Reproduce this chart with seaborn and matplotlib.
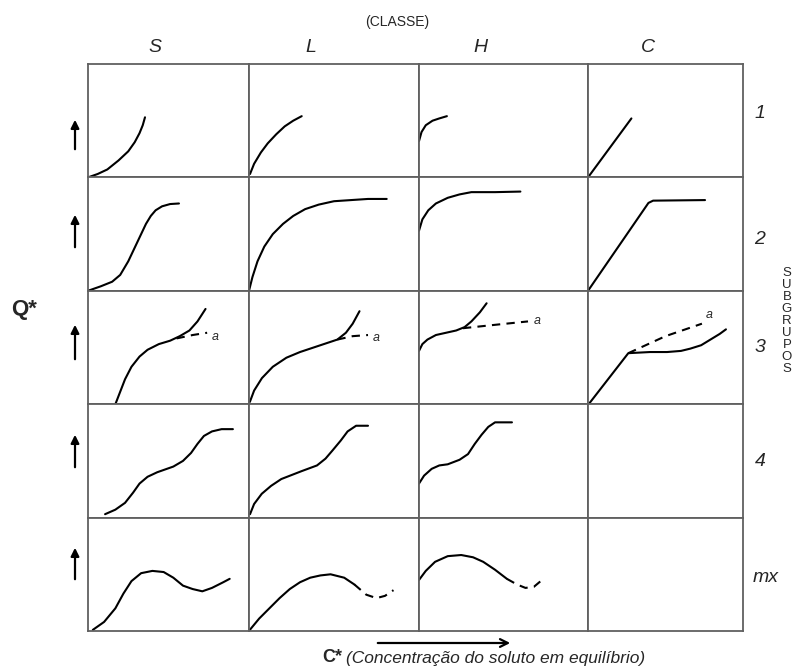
import matplotlib
matplotlib.use("Agg")
import matplotlib.pyplot as plt
import seaborn as sns

# classes (columns) and subgroups (rows)
CLASSES = ["S", "L", "H", "C"]
SUBGROUPS = ["1", "2", "3", "4", "mx"]

# curves, in cell units (0..1)
S1_X = [0, 0.06, 0.12, 0.19, 0.25, 0.29, 0.32, 0.34, 0.354]
S1_Y = [0, 0.03, 0.07, 0.15, 0.23, 0.31, 0.39, 0.46, 0.53]
L1_X = [0.006, 0.03, 0.07, 0.11, 0.16, 0.21, 0.26, 0.31]
L1_Y = [0.03, 0.12, 0.22, 0.30, 0.38, 0.45, 0.50, 0.54]
H1_X = [0, 0.015, 0.04, 0.08, 0.12, 0.165]
H1_Y = [0.32, 0.40, 0.46, 0.50, 0.52, 0.54]
C1_X = [0, 0.28]
C1_Y = [0, 0.52]

S2_X = [0, 0.08, 0.15, 0.2, 0.25, 0.29, 0.33, 0.36, 0.39, 0.42, 0.46, 0.51, 0.565]
S2_Y = [0, 0.04, 0.08, 0.14, 0.26, 0.38, 0.50, 0.59, 0.66, 0.71, 0.745, 0.765, 0.77]
L2_X = [0, 0.02, 0.05, 0.09, 0.14, 0.2, 0.26, 0.33, 0.41, 0.5, 0.6, 0.7, 0.81]
L2_Y = [0, 0.12, 0.26, 0.39, 0.50, 0.59, 0.66, 0.72, 0.76, 0.79, 0.80, 0.81, 0.81]
H2_X = [0, 0.02, 0.055, 0.1, 0.17, 0.24, 0.31, 0.45, 0.60]
H2_Y = [0.53, 0.63, 0.71, 0.77, 0.82, 0.85, 0.87, 0.87, 0.875]
C2_X = [0, 0.39, 0.42, 0.755]
C2_Y = [0, 0.775, 0.795, 0.80]

S3_X = [0.17, 0.2, 0.23, 0.27, 0.32, 0.37, 0.44, 0.51, 0.57, 0.63, 0.68, 0.73]
S3_Y = [0, 0.11, 0.22, 0.33, 0.42, 0.48, 0.53, 0.56, 0.60, 0.65, 0.73, 0.84]
S3A_X = [0.55, 0.65, 0.74]
S3A_Y = [0.58, 0.61, 0.63]
L3_X = [0.005, 0.03, 0.076, 0.14, 0.22, 0.30, 0.38, 0.46, 0.52, 0.57, 0.61, 0.65]
L3_Y = [0.02, 0.12, 0.23, 0.33, 0.41, 0.46, 0.50, 0.54, 0.57, 0.63, 0.71, 0.82]
L3A_X = [0.52, 0.61, 0.70]
L3A_Y = [0.57, 0.60, 0.61]
H3_X = [0, 0.02, 0.05, 0.1, 0.16, 0.22, 0.27, 0.31, 0.36, 0.40]
H3_Y = [0.47, 0.53, 0.57, 0.61, 0.63, 0.65, 0.68, 0.73, 0.81, 0.89]
H3A_X = [0.26, 0.45, 0.645]
H3A_Y = [0.67, 0.70, 0.73]
C3_X = [0.01, 0.26, 0.40, 0.51, 0.60, 0.66, 0.73, 0.79, 0.85, 0.89]
C3_Y = [0.01, 0.45, 0.46, 0.46, 0.47, 0.49, 0.52, 0.57, 0.62, 0.66]
C3A_X = [0.26, 0.5, 0.735]
C3A_Y = [0.45, 0.60, 0.71]

S4_X = [0.106, 0.17, 0.23, 0.28, 0.32, 0.37, 0.43, 0.53, 0.59, 0.64, 0.68, 0.72, 0.77, 0.83, 0.90]
S4_Y = [0.03, 0.07, 0.13, 0.22, 0.30, 0.36, 0.40, 0.45, 0.50, 0.57, 0.65, 0.72, 0.76, 0.78, 0.78]
L4_X = [0.006, 0.03, 0.075, 0.13, 0.19, 0.31, 0.40, 0.45, 0.49, 0.54, 0.58, 0.63, 0.70]
L4_Y = [0.03, 0.12, 0.21, 0.28, 0.34, 0.41, 0.46, 0.52, 0.59, 0.68, 0.76, 0.81, 0.81]
H4_X = [0, 0.03, 0.075, 0.12, 0.17, 0.24, 0.29, 0.33, 0.37, 0.41, 0.45, 0.55]
H4_Y = [0.30, 0.37, 0.43, 0.46, 0.47, 0.51, 0.56, 0.65, 0.73, 0.80, 0.84, 0.84]

S5_X = [0.03, 0.1, 0.17, 0.22, 0.27, 0.33, 0.40, 0.47, 0.53, 0.59, 0.65, 0.71, 0.77, 0.84, 0.88]
S5_Y = [0.01, 0.08, 0.20, 0.33, 0.44, 0.51, 0.53, 0.52, 0.47, 0.40, 0.37, 0.35, 0.38, 0.43, 0.46]
L5_X = [0.005, 0.06, 0.12, 0.18, 0.24, 0.30, 0.36, 0.42, 0.48, 0.56, 0.62]
L5_Y = [0.01, 0.11, 0.20, 0.29, 0.37, 0.43, 0.47, 0.49, 0.50, 0.47, 0.41]
L5D_X = [0.62, 0.69, 0.75, 0.80, 0.85]
L5D_Y = [0.41, 0.32, 0.29, 0.31, 0.36]
H5_X = [0, 0.04, 0.095, 0.17, 0.25, 0.32, 0.38, 0.45, 0.52]
H5_Y = [0.45, 0.53, 0.61, 0.66, 0.67, 0.65, 0.61, 0.54, 0.46]
H5D_X = [0.52, 0.58, 0.63, 0.68, 0.72]
H5D_Y = [0.46, 0.41, 0.38, 0.39, 0.44]

# where the little "a" sits next to the dashed branches
A_LABELS = {(2, 0): (0.79, 0.59), (2, 1): (0.75, 0.58), (2, 2): (0.70, 0.73), (2, 3): (0.78, 0.79)}

SOLID = "-"
DASHED = (0, (4, 3))
CURVES = {
    (0, 0): [(S1_X, S1_Y, SOLID)], (0, 1): [(L1_X, L1_Y, SOLID)],
    (0, 2): [(H1_X, H1_Y, SOLID)], (0, 3): [(C1_X, C1_Y, SOLID)],
    (1, 0): [(S2_X, S2_Y, SOLID)], (1, 1): [(L2_X, L2_Y, SOLID)],
    (1, 2): [(H2_X, H2_Y, SOLID)], (1, 3): [(C2_X, C2_Y, SOLID)],
    (2, 0): [(S3_X, S3_Y, SOLID), (S3A_X, S3A_Y, DASHED)],
    (2, 1): [(L3_X, L3_Y, SOLID), (L3A_X, L3A_Y, DASHED)],
    (2, 2): [(H3_X, H3_Y, SOLID), (H3A_X, H3A_Y, DASHED)],
    (2, 3): [(C3_X, C3_Y, SOLID), (C3A_X, C3A_Y, DASHED)],
    (3, 0): [(S4_X, S4_Y, SOLID)], (3, 1): [(L4_X, L4_Y, SOLID)],
    (3, 2): [(H4_X, H4_Y, SOLID)],
    (4, 0): [(S5_X, S5_Y, SOLID)],
    (4, 1): [(L5_X, L5_Y, SOLID), (L5D_X, L5D_Y, DASHED)],
    (4, 2): [(H5_X, H5_Y, SOLID), (H5D_X, H5D_Y, DASHED)],
}

sns.set_style("white")
plt.rcParams["font.family"] = ["Liberation Sans", "DejaVu Sans"]

W, H = 797, 668
fig = plt.figure(figsize=(W / 100, H / 100), dpi=100, facecolor="white")
gs = fig.add_gridspec(5, 4, left=88 / W, right=743 / W, top=1 - 64 / H, bottom=1 - 631 / H,
                      wspace=0, hspace=0, width_ratios=[161, 170, 169, 155])

GRID = "#606060"
for r in range(5):
    for c in range(4):
        ax = fig.add_subplot(gs[r, c])
        ax.set_xlim(0, 1)
        ax.set_ylim(0, 1)
        ax.set_xticks([])
        ax.set_yticks([])
        for s in ax.spines.values():
            s.set_color(GRID)
            s.set_linewidth(1.3)
        for xs, ys, ls in CURVES.get((r, c), []):
            sns.lineplot(x=xs, y=ys, ax=ax, sort=False, estimator=None, color="black",
                         linewidth=1.5, linestyle=ls, legend=False)
        if (r, c) in A_LABELS:
            ax.text(*A_LABELS[(r, c)], "a", fontsize=9, style="italic", ha="center", va="center")


def fx(x):
    return x / W


def fy(y):
    return 1 - y / H


# headers
fig.text(fx(397), fy(22), "(CLASSE)", fontsize=10, ha="center", va="center")
for name, x in zip(CLASSES, [155, 311, 480, 648]):
    fig.text(fx(x), fy(48), name, fontsize=14, style="italic", ha="center", va="center")

# subgroup labels on the right
for name, x, y in zip(SUBGROUPS, [760, 760, 760, 760, 766], [113, 240, 348, 462, 578]):
    fig.text(fx(x), fy(y), name, fontsize=14, style="italic", ha="center", va="center")
for i, ch in enumerate("SUBGRUPOS"):
    fig.text(fx(787), fy(273 + 12 * i), ch, fontsize=9.5, ha="center", va="center")

# y axis label and arrows
fig.text(fx(24), fy(310), "Q*", fontsize=16, fontweight="bold", ha="center", va="center")
for tip, tail in [(117, 152), (212, 250), (322, 362), (432, 470), (545, 582)]:
    fig.add_artist(matplotlib.patches.FancyArrowPatch(
        (fx(75), fy(tail)), (fx(75), fy(tip)), transform=fig.transFigure,
        arrowstyle="-|>", mutation_scale=12, lw=1.6, color="black"))

# x axis label and arrow
fig.add_artist(matplotlib.patches.FancyArrowPatch(
    (fx(375), fy(643)), (fx(513), fy(643)), transform=fig.transFigure,
    arrowstyle="->", mutation_scale=14, lw=1.6, color="black"))
fig.text(fx(322), fy(658), "C*", fontsize=13, fontweight="bold", ha="left", va="center")
fig.text(fx(346), fy(659), "(Concentração do soluto em equilíbrio)", fontsize=12.5,
         style="italic", ha="left", va="center")

plt.savefig("out.png", dpi=100, facecolor="white")
